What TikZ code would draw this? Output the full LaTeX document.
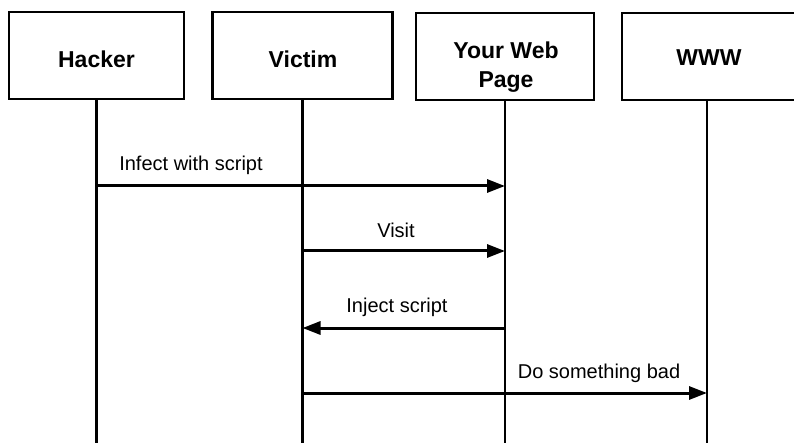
\documentclass[tikz,border=0pt]{standalone}
\usepackage{fontspec}
\setmainfont{Liberation Sans}
\usetikzlibrary{arrows.meta,calc}
\begin{document}
\begin{tikzpicture}[x=1pt,y=-1pt,
  actor/.style={draw,line width=2.5pt,minimum height=87pt,inner sep=0pt},
  actortext/.style={inner sep=0pt,align=center,
    font=\bfseries\fontsize{23}{29}\selectfont},
  lifeline/.style={line width=2.5pt},
  msg/.style={line width=3pt,-{Triangle[length=18pt,width=13pt]}},
  msglabel/.style={font=\fontsize{20}{24}\selectfont,inner sep=0pt}]
  \useasboundingbox (0,0) rectangle (794,443);

  % participant boxes (the last one runs past the right edge)
  \node[actor,minimum width=175pt] (hacker) at (96.5,55.5) {};
  \node[actor,minimum width=180pt] (victim) at (302.5,55.5) {};
  \node[actor,minimum width=178pt] (web) at (505,56.5) {};
  \node[actor,minimum width=240pt] (www) at (742,56.5) {};

  % participant names
  \node[actortext] (hackertext) at (96.5,59) {Hacker};
  \node[actortext] (victimtext) at (303,59) {Victim};
  \node[actortext] (webtext) at (506,67) {Your Web\\Page};
  \node[actortext] (wwwtext) at (709,58) {WWW};

  % lifelines
  \coordinate (wwwtop) at (707,100);
  \coordinate (hackerend) at (hacker.south |- 0,445);
  \coordinate (victimend) at (victim.south |- 0,445);
  \coordinate (webend) at (web.south |- 0,445);
  \coordinate (wwwend) at (wwwtop |- 0,445);
  \draw[lifeline] (hacker.south) -- (hackerend);
  \draw[lifeline] (victim.south) -- (victimend);
  \draw[lifeline] (web.south) -- (webend);
  \draw[lifeline] (wwwtop) -- (wwwend);

  % messages
  \coordinate (m1a) at (hacker.south |- 0,186);
  \coordinate (m1b) at (web.south |- 0,186);
  \coordinate (m2a) at (victim.south |- 0,251);
  \coordinate (m2b) at (web.south |- 0,251);
  \coordinate (m3a) at (web.south |- 0,328);
  \coordinate (m3b) at (victim.south |- 0,328);
  \coordinate (m4a) at (victim.south |- 0,393);
  \coordinate (m4b) at (wwwtop |- 0,393);

  \draw[msg] (m1a) -- (m1b);
  \draw[msg] (m2a) -- (m2b);
  \draw[msg] (m3a) -- (m3b);
  \draw[msg] (m4a) -- (m4b);

  \node[msglabel] (l1) at (191,165) {Infect with script};
  \node[msglabel] (l2) at (396,230) {Visit};
  \node[msglabel] (l3) at (397,307) {Inject script};
  \node[msglabel] (l4) at (599,373) {Do something bad};
\end{tikzpicture}
\end{document}
